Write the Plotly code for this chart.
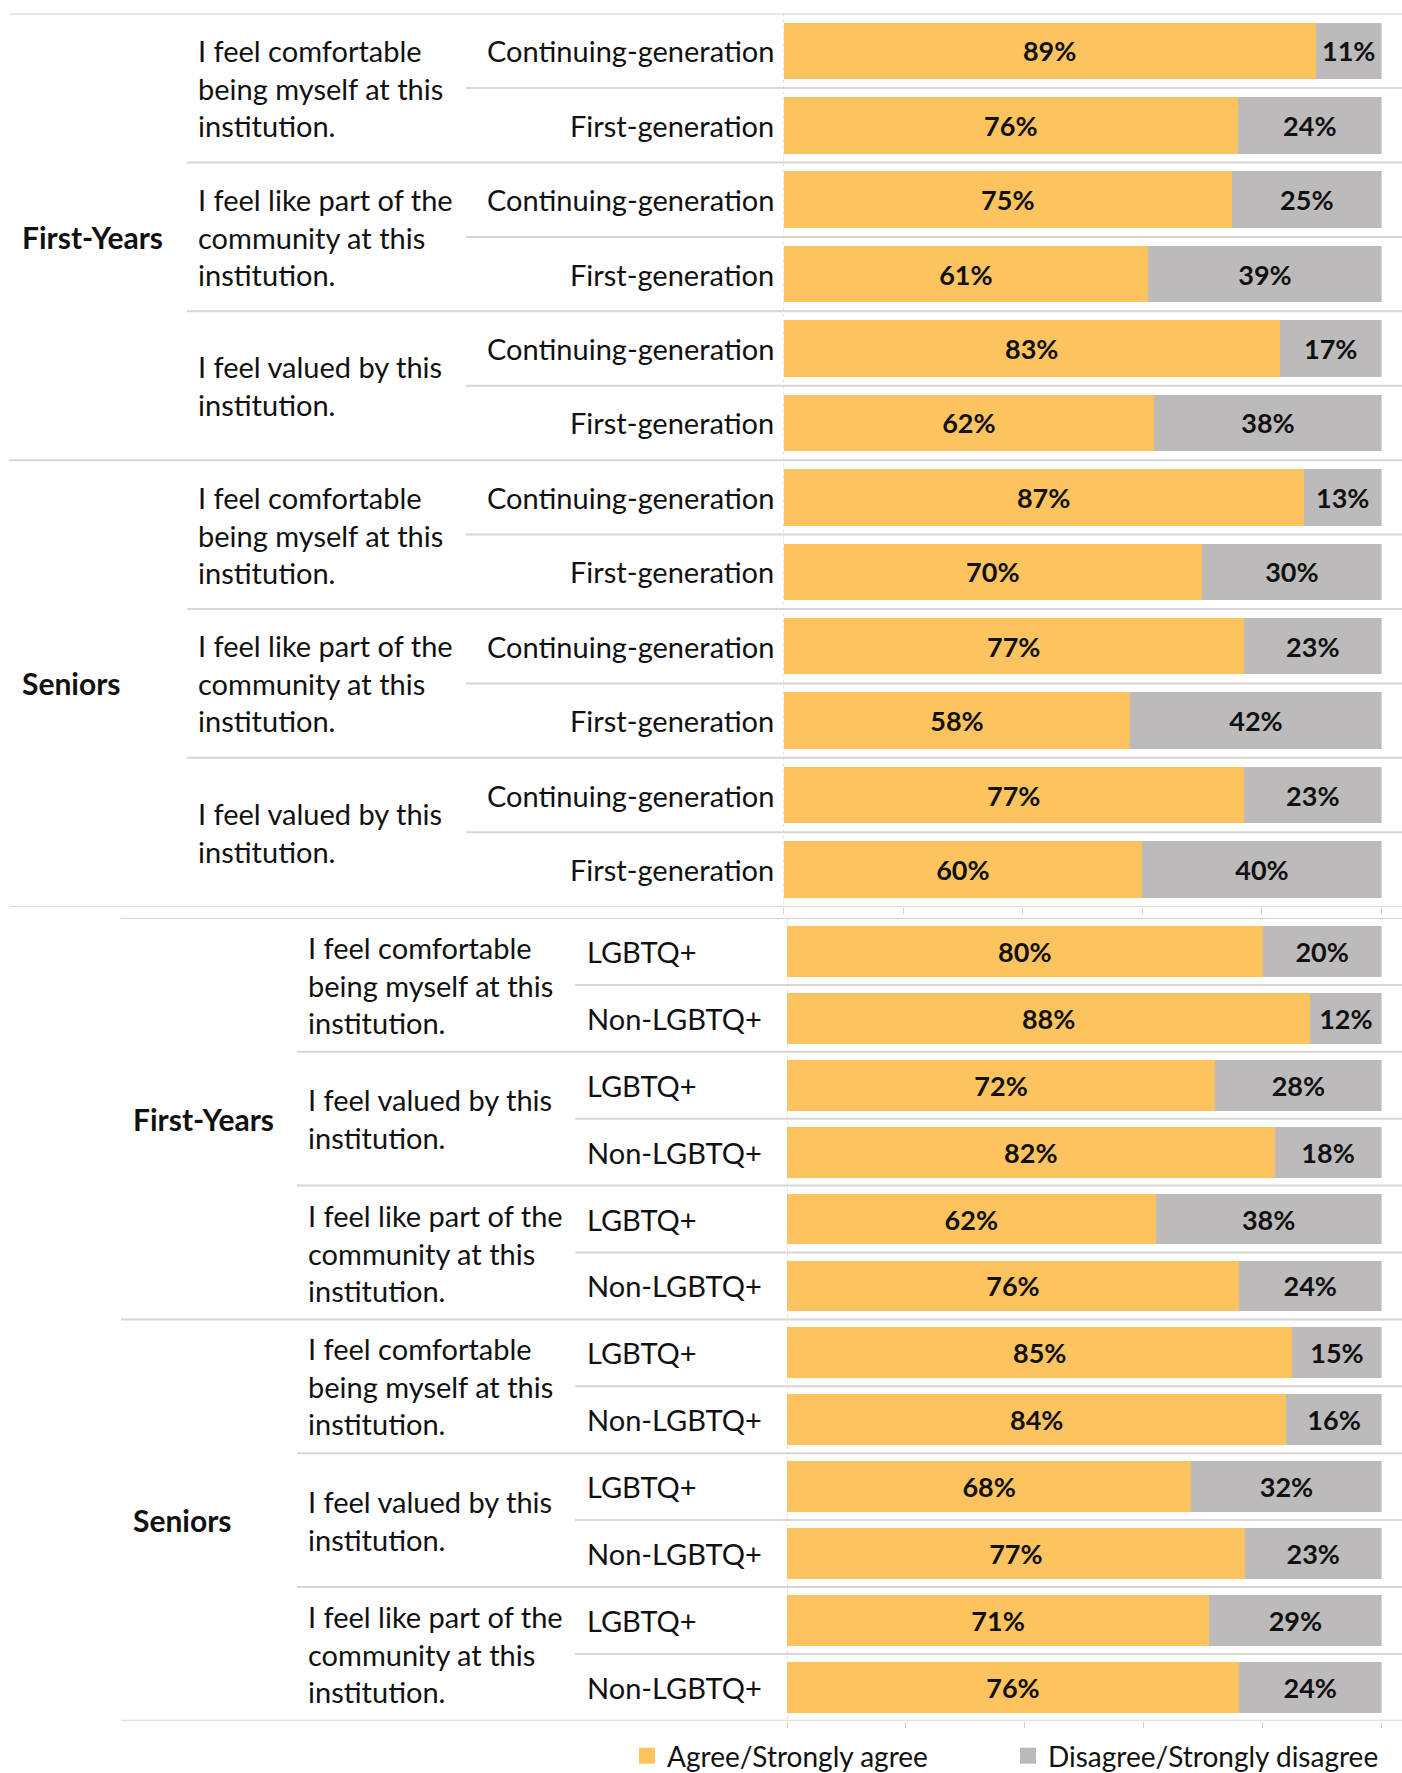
import plotly.graph_objects as go

# ---- Panel 1: first-generation vs continuing-generation students ----
gen_groups = ["First-Years", "Seniors"]
gen_questions = [
    "I feel comfortable<br>being myself at this<br>institution.",
    "I feel like part of the<br>community at this<br>institution.",
    "I feel valued by this<br>institution.",
]
gen_subgroups = ["Continuing-generation", "First-generation"]
gen_agree = [89, 76, 75, 61, 83, 62, 87, 70, 77, 58, 77, 60]
gen_disagree = [11, 24, 25, 39, 17, 38, 13, 30, 23, 42, 23, 40]

# ---- Panel 2: LGBTQ+ vs non-LGBTQ+ students ----
lgbtq_groups = ["First-Years", "Seniors"]
lgbtq_questions = [
    "I feel comfortable<br>being myself at this<br>institution.",
    "I feel valued by this<br>institution.",
    "I feel like part of the<br>community at this<br>institution.",
]
lgbtq_subgroups = ["LGBTQ+", "Non-LGBTQ+"]
lgbtq_agree = [80, 88, 72, 82, 62, 76, 85, 84, 68, 77, 71, 76]
lgbtq_disagree = [20, 12, 28, 18, 38, 24, 15, 16, 32, 23, 29, 24]

series_names = ["Agree/Strongly agree", "Disagree/Strongly disagree"]
x_ticks = [0, 20, 40, 60, 80, 100]

AGREE = "#FCC35E"
DISAGREE = "#BCBABB"
RULE = "#D6D6D6"
INK = "#111111"
FONT = "Lato"
W, H = 1402, 1773


def px(v):
    return v / W


def py(v):
    return 1 - v / H


fig = go.Figure()

panels = [
    dict(xa="x", ya="y", agree=gen_agree, disagree=gen_disagree,
         groups=gen_groups, questions=gen_questions, subgroups=gen_subgroups),
    dict(xa="x2", ya="y2", agree=lgbtq_agree, disagree=lgbtq_disagree,
         groups=lgbtq_groups, questions=lgbtq_questions, subgroups=lgbtq_subgroups),
]

for p in panels:
    rows = list(range(len(p["agree"])))
    for vals, color in ((p["agree"], AGREE), (p["disagree"], DISAGREE)):
        fig.add_trace(go.Bar(
            x=vals, y=rows, orientation="h",
            xaxis=p["xa"], yaxis=p["ya"],
            marker=dict(color=color, line=dict(width=0)),
            text=[f"{v}%" for v in vals],
            textposition="inside", insidetextanchor="middle",
            constraintext="none",
            textfont=dict(family=FONT, size=27, color=INK, weight="bold"),
            showlegend=False, hoverinfo="skip",
        ))

# legend entries
for name, color in zip(series_names, (AGREE, DISAGREE)):
    fig.add_trace(go.Scatter(
        x=[None], y=[None], mode="markers", name=name,
        marker=dict(symbol="square", size=16, color=color),
        xaxis="x", yaxis="y",
    ))

shapes = []
annotations = []

# left edges (in px) for rules and text columns of each panel
layout_cols = [
    dict(ya="y", xa="x", group_rule=9, q_rule=187, s_rule=466,
         group_x=20, q_x=196, s_x=776, s_anchor="right"),
    dict(ya="y2", xa="x2", group_rule=121, q_rule=297, s_rule=575,
         group_x=131, q_x=306, s_x=585, s_anchor="left"),
]

for p, c in zip(panels, layout_cols):
    n = len(p["agree"])
    # horizontal rules
    for b in range(n + 1):
        yb = b - 0.5
        if b % 6 == 0:
            x0 = c["group_rule"]
        elif b % 2 == 0:
            x0 = c["q_rule"]
        else:
            x0 = c["s_rule"]
        shapes.append(dict(type="line", xref="paper", yref=c["ya"],
                           x0=px(x0), x1=1, y0=yb, y1=yb,
                           line=dict(color=RULE, width=2)))
    # dotted baseline at 0%
    shapes.append(dict(type="line", xref=c["xa"], yref=c["ya"],
                       x0=0, x1=0, y0=-0.5, y1=n - 0.5,
                       line=dict(color="#C8C8C8", width=1, dash="dot")))

    for gi, g in enumerate(p["groups"]):
        annotations.append(dict(
            text=g, xref="paper", yref=c["ya"], x=px(c["group_x"]), y=gi * 6 + 2.5,
            xanchor="left", yanchor="middle", showarrow=False,
            font=dict(family=FONT, size=30, color=INK, weight="bold")))
        for qi, q in enumerate(p["questions"]):
            annotations.append(dict(
                text=q, xref="paper", yref=c["ya"], x=px(c["q_x"]),
                y=gi * 6 + qi * 2 + 0.5, xanchor="left", yanchor="middle",
                align="left", showarrow=False,
                font=dict(family=FONT, size=29, color=INK)))
            for si, s in enumerate(p["subgroups"]):
                annotations.append(dict(
                    text=s, xref="paper", yref=c["ya"], x=px(c["s_x"]),
                    y=gi * 6 + qi * 2 + si, xanchor=c["s_anchor"], yanchor="middle",
                    showarrow=False,
                    font=dict(family=FONT, size=29, color=INK)))

axis_common = dict(range=[0, 100], showgrid=False, zeroline=False,
                   showticklabels=False, ticks="outside", ticklen=6,
                   tickwidth=1, tickcolor="#D0D0D0", tickvals=x_ticks,
                   showline=False, fixedrange=True)
yaxis_common = dict(range=[11.5, -0.5], showgrid=False, zeroline=False,
                    showticklabels=False, ticks="", showline=False, fixedrange=True)

fig.update_layout(
    width=W, height=H,
    margin=dict(l=0, r=0, t=0, b=0, autoexpand=False),
    paper_bgcolor="white", plot_bgcolor="white",
    barmode="stack", bargap=0.24,
    xaxis=dict(domain=[px(783.5), px(1381.6)], anchor="y", **axis_common),
    yaxis=dict(domain=[py(906.7), py(13.6)], anchor="x", **yaxis_common),
    xaxis2=dict(domain=[px(787), px(1381.6)], anchor="y2", **axis_common),
    yaxis2=dict(domain=[py(1720.8), py(918)], anchor="x2", **yaxis_common),
    shapes=shapes,
    annotations=annotations,
    showlegend=True,
    legend=dict(orientation="h", traceorder="normal",
                x=px(627), y=py(1756), xanchor="left", yanchor="middle",
                entrywidth=336, entrywidthmode="pixels",
                font=dict(family=FONT, size=28, color=INK),
                bgcolor="rgba(0,0,0,0)"),
    font=dict(family=FONT),
)

fig.write_html("out.html")
